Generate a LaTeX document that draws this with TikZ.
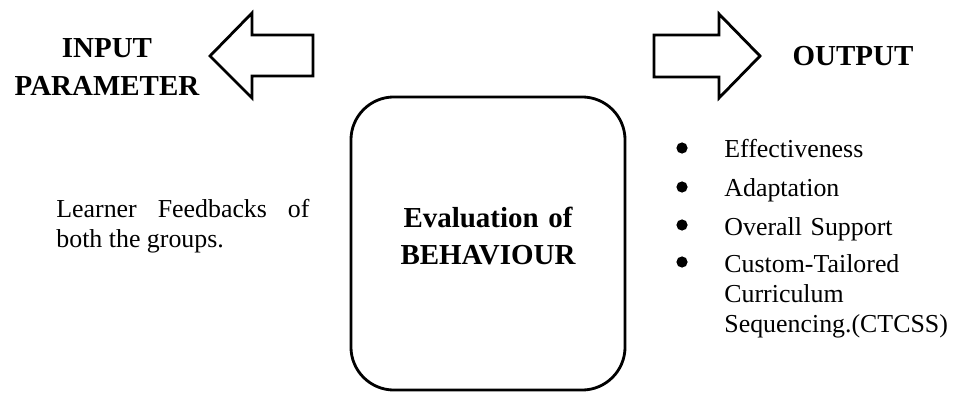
\documentclass[tikz,border=0pt]{standalone}
\usepackage{fontspec}
\setmainfont{Liberation Serif}

\begin{document}
\begin{tikzpicture}[x=0.025cm, y=-0.025cm, line width=2pt, line join=miter,
    heading/.style={font=\fontsize{20.6}{26.9}\selectfont\bfseries, inner sep=0pt, text width=6cm, align=center},
    body/.style={font=\fontsize{18.4}{21.6}\selectfont, inner sep=0pt},
    bullet/.style={circle, fill, inner sep=0pt, minimum size=0.28cm}]

    % 描画範囲
    \useasboundingbox (0,0) rectangle (953,393);

    % 矢印の点の定義
    \coordinate (LT) at (210,56);
    \coordinate (LH1) at (252,13);
    \coordinate (LH2) at (252,98);
    \coordinate (LS1) at (252,35);
    \coordinate (LS2) at (313,35);
    \coordinate (LS3) at (313,76);
    \coordinate (LS4) at (252,76);

    \coordinate (RT) at (760,56);
    \coordinate (RH1) at (719,14);
    \coordinate (RH2) at (719,98);
    \coordinate (RS1) at (719,35);
    \coordinate (RS2) at (654,35);
    \coordinate (RS3) at (654,77);
    \coordinate (RS4) at (719,77);

    % 矢印の描画
    \draw (LT) -- (LH1) -- (LS1) -- (LS2) -- (LS3) -- (LS4) -- (LH2) -- cycle;
    \draw (RT) -- (RH1) -- (RS1) -- (RS2) -- (RS3) -- (RS4) -- (RH2) -- cycle;

    % 見出し
    \node[heading, anchor=base] (input) at (107,58) {INPUT\\PARAMETER};
    \node[heading, anchor=base] (output) at (853,66) {OUTPUT};

    % 中央の枠
    \node[draw, rounded corners=1.075cm, minimum width=6.85cm, minimum height=7.325cm] (box) at (488,243.5) {};
    \node[heading, anchor=base] (eval) at (488,227) {Evaluation of\\BEHAVIOUR};

    % 入力の説明
    \node[body, anchor=base west, text width=6.325cm, align=justify, font=\fontsize{18.4}{22}\selectfont]
        (feedback) at (55,217) {Learner Feedbacks of both the groups.};

    % 出力の項目
    \foreach \y/\t [count=\i] in {158/Effectiveness, 197/Adaptation, 235/Overall Support,
        272/{Custom-Tailored\\Curriculum\\Sequencing.(CTCSS)}} {
        \node[bullet] (dot\i) at (682,\y-10) {};
        \node[body, anchor=base west, text width=6cm, align=left] (item\i) at (723,\y) {\t};
    }

\end{tikzpicture}
\end{document}
